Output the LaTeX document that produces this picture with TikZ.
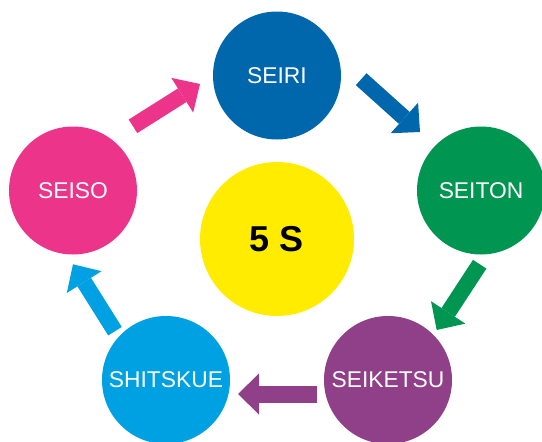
\documentclass[tikz,border=0pt]{standalone}
\usepackage{fontspec}
\setmainfont{Liberation Sans}
\usetikzlibrary{arrows.meta}
\definecolor{cBlue}{RGB}{0,103,172}
\definecolor{cGreen}{RGB}{0,150,81}
\definecolor{cPurple}{RGB}{144,63,137}
\definecolor{cCyan}{RGB}{0,161,226}
\definecolor{cPink}{RGB}{236,52,138}
\definecolor{cYellow}{RGB}{255,236,0}
\tikzset{
  stage/.style={circle, minimum size=128pt, inner sep=0pt, text=white,
    font=\fontsize{22.8}{24}\selectfont},
  core/.style={circle, minimum size=154pt, inner sep=0pt, fill=cYellow,
    font=\fontsize{36}{40}\selectfont\bfseries},
  blockarrow/.style={line width=16pt,
    -{Triangle[length=21pt,width=41pt,line width=0pt]}},
}
\begin{document}
\begin{tikzpicture}[x=1pt,y=-1pt]
\useasboundingbox (0,0) rectangle (542,442);
\node[stage, fill=cBlue]   (seiri)    at (277,75.5) {SEIRI};
\node[stage, fill=cGreen]  (seiton)   at (481,190.5) {SEITON};
\node[stage, fill=cPink]   (seiso)    at (73,190.5) {SEISO};
\node[stage, fill=cCyan]   (shitskue) at (166,380) {SHITSKUE};
\node[stage, fill=cPurple] (seiketsu) at (388,380) {SEIKETSU};
\node[core] (fives) at (277,239) {5 S};
\coordinate (a1s) at (133,126.3);   \coordinate (a1e) at (200,84);
\coordinate (a2s) at (361.2,79.2);  \coordinate (a2e) at (420,132);
\coordinate (a3s) at (479.7,264.2); \coordinate (a3e) at (436.7,330);
\coordinate (a4s) at (317,394);     \coordinate (a4e) at (238,394);
\coordinate (a5s) at (115,331.2);   \coordinate (a5e) at (73,264.3);
\draw[blockarrow, cPink]   (a1s) -- (a1e);
\draw[blockarrow, cBlue]   (a2s) -- (a2e);
\draw[blockarrow, cGreen]  (a3s) -- (a3e);
\draw[blockarrow, line width=17pt, cPurple] (a4s) -- (a4e);
\draw[blockarrow, cCyan]   (a5s) -- (a5e);
\end{tikzpicture}
\end{document}
